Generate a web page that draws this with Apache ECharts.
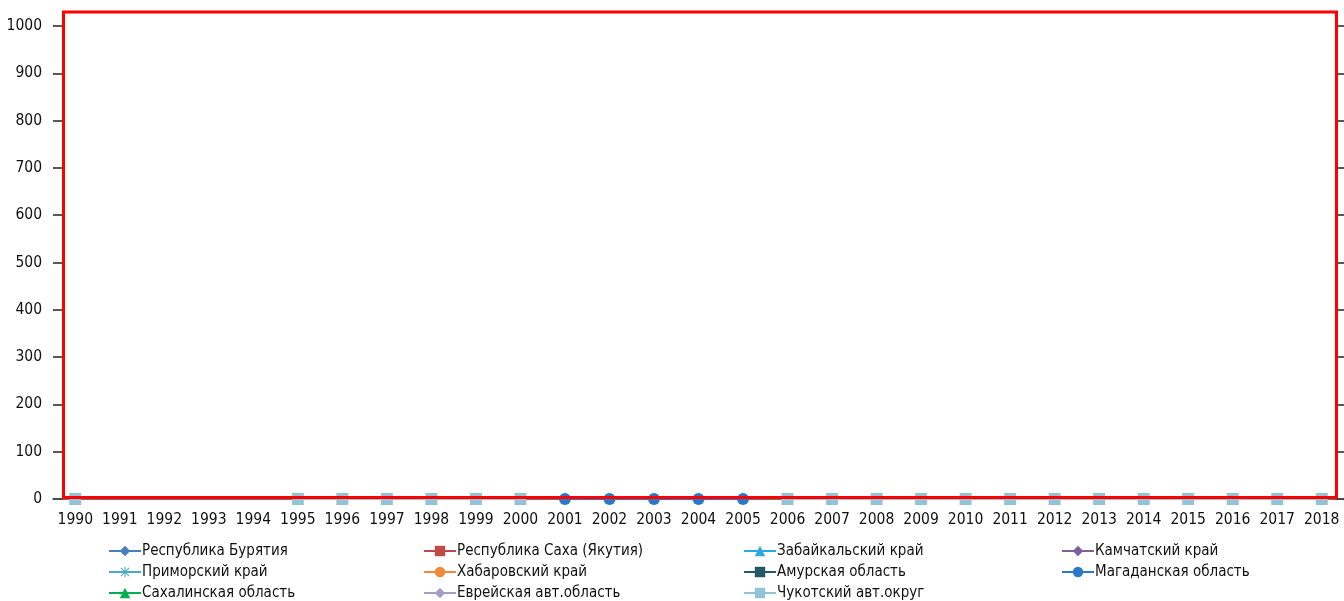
<!DOCTYPE html>
<html>
<head>
<meta charset="utf-8">
<script src="https://cdn.jsdelivr.net/npm/echarts@6/dist/echarts.min.js"></script>
<style>
html,body{margin:0;padding:0;background:#fff;}
#chart{width:1344px;height:601px;}
</style>
</head>
<body>
<div id="chart"></div>
<script>
const years = ['1990','1991','1992','1993','1994','1995','1996','1997','1998','1999','2000','2001','2002','2003','2004','2005','2006','2007','2008','2009','2010','2011','2012','2013','2014','2015','2016','2017','2018'];
const yTicks = [0, 100, 200, 300, 400, 500, 600, 700, 800, 900, 1000];
const seriesNames = ['Республика Бурятия','Республика Саха (Якутия)','Забайкальский край','Камчатский край','Приморский край','Хабаровский край','Амурская область','Магаданская область','Сахалинская область','Еврейская авт.область','Чукотский авт.округ'];
const N = null;
const buryatia   = [N,N,N,N,N,N,N,N,N,N,N,N,N,N,N,N,N,N,N,N,N,N,N,N,N,N,N,N,N];
const sakha      = [N,N,N,N,N,N,N,N,N,N,N,N,N,N,N,N,N,N,N,N,N,N,N,N,N,N,N,N,N];
const zabaikal   = [N,N,N,N,N,N,N,N,N,N,N,N,N,N,N,N,N,N,N,N,N,N,N,N,N,N,N,N,N];
const kamchatka  = [N,N,N,N,N,N,N,N,N,N,N,N,N,N,N,N,N,N,N,N,N,N,N,N,N,N,N,N,N];
const primorye   = [N,N,N,N,N,N,N,N,N,N,N,N,N,N,N,N,N,N,N,N,N,N,N,N,N,N,N,N,N];
const khabarovsk = [N,N,N,N,N,N,N,N,N,N,N,N,N,N,N,N,N,N,N,N,N,N,N,N,N,N,N,N,N];
const amur       = [N,N,N,N,N,N,N,N,N,N,N,N,N,N,N,N,N,N,N,N,N,N,N,N,N,N,N,N,N];
const magadan    = [N,N,N,N,N,N,N,N,N,N,N,0,0,0,0,0,N,N,N,N,N,N,N,N,N,N,N,N,N];
const sakhalin   = [N,N,N,N,N,N,N,N,N,N,N,N,N,N,N,N,N,N,N,N,N,N,N,N,N,N,N,N,N];
const jewish     = [N,N,N,N,N,N,N,N,N,N,N,N,N,N,N,N,N,N,N,N,N,N,N,N,N,N,N,N,N];
const chukotka   = [0,N,N,N,N,0,0,0,0,0,0,N,N,N,N,N,0,0,0,0,0,0,0,0,0,0,0,0,0];

const seriesData = [buryatia,sakha,zabaikal,kamchatka,primorye,khabarovsk,amur,magadan,sakhalin,jewish,chukotka];
const colors = ['#4A7EBB','#BE4B48','#2FA8E0','#7D5FA0','#4AA9C4','#F08A3C','#215968','#2B78C6','#00B050','#A59CC9','#93C4D6'];
const asterisk = 'path://M9,0L11,0L11,20L9,20Z M0,9L20,9L20,11L0,11Z M1.4,2.8L2.8,1.4L18.6,17.2L17.2,18.6Z M17.2,1.4L18.6,2.8L2.8,18.6L1.4,17.2Z';
const symbols = ['diamond','rect','triangle','diamond',asterisk,'circle','rect','circle','triangle','diamond','rect'];
const symbolSizes = [10,10,10,10,10,10,10,12,10,10,12];

const FONT = "'Liberation Sans Narrow','DejaVu Sans Condensed','Roboto',sans-serif";

const series = seriesNames.map((name,i)=>({
  name: name,
  type: 'line',
  data: seriesData[i],
  symbol: symbols[i],
  symbolSize: symbolSizes[i],
  showAllSymbol: true,
  connectNulls: false,
  lineStyle: {width: 2.5, color: colors[i]},
  itemStyle: {color: colors[i]},
  z: 3
}));

const cols = [[0,4,8],[1,5,9],[2,6,10],[3,7]];
const colLeft = [108, 423, 743, 1061];
const legends = cols.map((c,k)=>({
  data: c.map(i=>seriesNames[i]),
  orient: 'vertical',
  left: colLeft[k],
  top: 543,
  height: 60,
  itemWidth: 32,
  itemHeight: 13,
  itemGap: 5,
  padding: 0,
  textStyle: {fontFamily: FONT, fontSize: 15, lineHeight: 16, color: '#111', padding: [0,0,0,-4]}
}));

const chart = echarts.init(document.getElementById('chart'));
chart.setOption({
  animation: false,
  backgroundColor: '#fff',
  color: colors,
  grid: {left: 53, right: 0, top: 26, bottom: 102, containLabel: false},
  legend: legends,
  xAxis: {
    type: 'category',
    data: years,
    boundaryGap: true,
    axisLine: {show: true, lineStyle: {color: '#444', width: 1.5}},
    axisTick: {show: false},
    axisLabel: {fontFamily: FONT, fontSize: 15.5, color: '#111', margin: 13, interval: 0},
    z: 2
  },
  yAxis: [{
    type: 'value',
    min: yTicks[0],
    max: yTicks[yTicks.length-1],
    interval: yTicks[1]-yTicks[0],
    position: 'left',
    axisLine: {show: false},
    axisTick: {show: true, inside: true, length: 10, lineStyle: {color: '#222', width: 1.5}},
    splitLine: {show: false},
    axisLabel: {fontFamily: FONT, fontSize: 15.5, color: '#111', margin: 11, formatter: v => String(v)}
  },{
    type: 'value',
    min: yTicks[0],
    max: yTicks[yTicks.length-1],
    interval: yTicks[1]-yTicks[0],
    position: 'right',
    axisLine: {show: false},
    axisTick: {show: true, inside: true, length: 9, lineStyle: {color: '#222', width: 1.5}},
    splitLine: {show: false},
    axisLabel: {show: false}
  }],
  series: series,
  graphic: [{
    type: 'rect',
    shape: {x: 63.5, y: 12, width: 1273, height: 485.5},
    style: {fill: 'none', stroke: '#FF0000', lineWidth: 3},
    z: 100
  }]
});
</script>
</body>
</html>
